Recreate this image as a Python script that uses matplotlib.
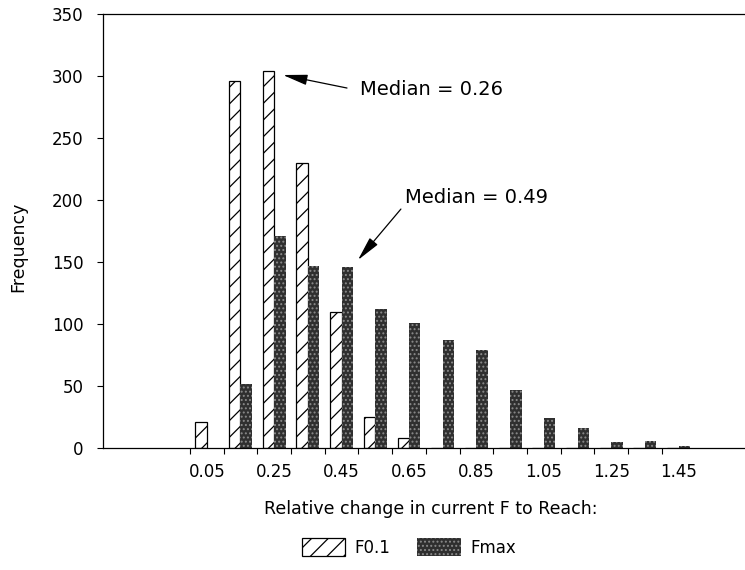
import numpy as np
import matplotlib
matplotlib.use("Agg")
import matplotlib.pyplot as plt
from matplotlib.patches import Patch

plt.rcParams['font.family'] = ['DejaVu Sans']
plt.rcParams['hatch.linewidth'] = 0.9

# Data
bin_centers = [0.05, 0.15, 0.25, 0.35, 0.45, 0.55, 0.65, 0.75, 0.85, 0.95, 1.05, 1.15, 1.25, 1.35, 1.45]
f01_counts  = [21, 296, 304, 230, 110, 25, 8, 0, 0, 0, 0, 0, 0, 0, 0]
fmax_counts = [0, 52, 171, 147, 146, 112, 101, 87, 79, 47, 24, 16, 5, 6, 2]
tick_labels = ["0.05", "0.25", "0.45", "0.65", "0.85", "1.05", "1.25", "1.45"]
label_positions = [0.05, 0.25, 0.45, 0.65, 0.85, 1.05, 1.25, 1.45]
bin_edges = [0.0, 0.1, 0.2, 0.3, 0.4, 0.5, 0.6, 0.7, 0.8, 0.9, 1.0, 1.1, 1.2, 1.3, 1.4]
series_names = ["F0.1", "Fmax"]

fig = plt.figure(figsize=(7.45, 5.7), dpi=100)
ax = fig.add_axes([103/745, 122/570, 642/745, 434/570])

x = np.array(bin_centers)
w = 0.034
ax.bar(x - w/2, f01_counts, width=w, facecolor='white', edgecolor='black',
       hatch='//', linewidth=0.9, label=series_names[0])
ax.bar(x + w/2, fmax_counts, width=w, facecolor='#2f2f2f', edgecolor='#8a8a8a',
       hatch='....', linewidth=0, label=series_names[1])

ax.set_xlim(-0.258, 1.647)
ax.set_ylim(0, 350)
ax.set_yticks(np.arange(0, 351, 50))
ax.set_xticks(bin_edges)
ax.set_xticklabels([""] * len(bin_edges))
ax.set_xticks(label_positions, minor=True)
ax.set_xticklabels(tick_labels, minor=True)
ax.tick_params(axis='x', which='major', length=4, direction='out', width=0.8)
ax.tick_params(axis='x', which='minor', length=0, pad=11, labelsize=12)
ax.tick_params(axis='y', length=4, width=0.8, pad=10, labelsize=12)

ax.spines['right'].set_visible(False)
for s in ['left', 'top', 'bottom']:
    ax.spines[s].set_linewidth(0.9)

ax.set_xlabel("Relative change in current F to Reach:", fontsize=12.5)
ax.xaxis.set_label_coords(0.51, -0.12)
ax.set_ylabel("Frequency", fontsize=12.5)
ax.yaxis.set_label_coords(-0.118, 0.463)

arrow = dict(arrowstyle='-|>,head_length=1.5,head_width=0.32', mutation_scale=10,
             color='black', lw=0.9, shrinkA=0, shrinkB=0)
ax.annotate("", xy=(0.276, 300.8), xytext=(0.466, 290.3), arrowprops=arrow)
ax.text(0.504, 289.5, "Median = 0.26", fontsize=14, ha='left', va='center')
ax.annotate("", xy=(0.4985, 151.6), xytext=(0.626, 192.7), arrowprops=arrow)
ax.text(0.638, 202.4, "Median = 0.49", fontsize=14, ha='left', va='center')

handles = [Patch(facecolor='white', edgecolor='black', hatch='//', linewidth=0.9),
           Patch(facecolor='#2f2f2f', edgecolor='#8a8a8a', hatch='....', linewidth=0)]
fig.legend(handles, series_names, loc='center', bbox_to_anchor=(0.549, 0.040),
           ncol=2, frameon=False, fontsize=12, handlelength=2.6, handleheight=1.3,
           columnspacing=1.6, handletextpad=0.6)

fig.savefig("out.png", dpi=100)
